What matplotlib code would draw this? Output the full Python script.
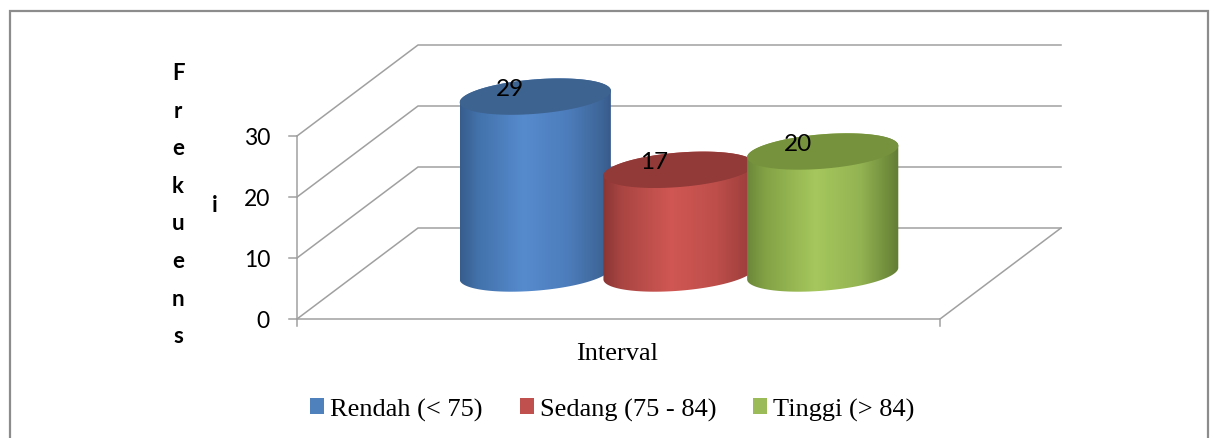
import numpy as np
import matplotlib
matplotlib.use("Agg")
import matplotlib.pyplot as plt
from matplotlib.colors import LinearSegmentedColormap
from matplotlib.patches import Polygon, Rectangle, Patch

# data
series = ["Rendah (< 75)", "Sedang (75 - 84)", "Tinggi (> 84)"]
values = [29, 17, 20]
y_ticks = [0, 10, 20, 30]
y_title = "Frekuensi"
x_title = "Interval"

# series colours: legend swatch, top face, body gradient stops
swatch = ["#4f81bd", "#c0504d", "#9bbb59"]
top_face = ["#3d6390", "#913a38", "#76923c"]
body_stops = [
    [(0.0, "#375d8c"), (0.12, "#4372ab"), (0.42, "#568bce"), (0.72, "#4c7cba"), (0.93, "#3e6698"), (1.0, "#37598a")],
    [(0.0, "#8a3634"), (0.12, "#a94542"), (0.45, "#d05753"), (0.75, "#bd4e4a"), (1.0, "#983c3a")],
    [(0.0, "#6b873a"), (0.12, "#83a245"), (0.45, "#a5c75d"), (0.75, "#93b352"), (1.0, "#627d33")],
]

# layout in pixels
FIG_W, FIG_H = 1212, 439
X0_PX, FRONT_W = 297, 643        # front floor edge
Y0_PX, PX_PER_UNIT = 320, 6.1    # value 0 on the front plane, pixels per unit
DEPTH_PX = (121, 91)             # offset from front plane to back wall
GRID = "#a0a0a0"
LABEL_FONT = "Lato"
SERIF = "Liberation Serif"


def px_x(n):
    return n / FRONT_W


def px_y(n):
    return n / PX_PER_UNIT


DX, DY = px_x(DEPTH_PX[0]), px_y(DEPTH_PX[1])

fig = plt.figure(figsize=(FIG_W / 100, FIG_H / 100), dpi=100)
ax = fig.add_axes([0, 0, 1, 1])
ax.set_autoscale_on(False)
ax.axis("off")

# walls, floor and axis lines
for v in y_ticks:
    ax.plot([0, DX, 1 + DX], [v, v + DY, v + DY], color=GRID, lw=1.1, zorder=1)
    ax.plot([-px_x(8), 0], [v, v], color=GRID, lw=1.1, zorder=1)
    ax.text(-px_x(27), v - px_y(1.5), str(v), ha="right", va="center", fontsize=16.5,
            family=LABEL_FONT)
ax.plot([0, 0], [0, y_ticks[-1]], color=GRID, lw=1.1, zorder=1)
ax.plot([0, 1, 1 + DX], [0, 0, DY], color=GRID, lw=1.1, zorder=1)
for x in (0, 1):
    ax.plot([x, x], [0, -px_y(7)], color=GRID, lw=1.1, zorder=1)

# cylinders, one per series, standing mid-depth
step = 0.2235
rad_x = px_x(71.6)
rad_z = 0.2
centers = 0.5 + (np.arange(len(values)) - (len(values) - 1) / 2) * step
theta_r = np.arctan2(rad_z * DX, rad_x)
half_w = np.hypot(rad_x, rad_z * DX)


def ring(cx, h, theta):
    z = 0.5 + rad_z * np.sin(theta)
    return np.column_stack([cx + rad_x * np.cos(theta) + z * DX, h + z * DY])


for i, val in enumerate(values):
    zo = 3 + i
    cx = centers[i]
    bottom = ring(cx, 0, np.linspace(theta_r, theta_r - np.pi, 120))
    top_back = ring(cx, val, np.linspace(theta_r + np.pi, theta_r, 120))
    body = Polygon(np.vstack([bottom, top_back]), closed=True,
                   facecolor="none", edgecolor="none", zorder=zo)
    ax.add_patch(body)

    mid_x = cx + 0.5 * DX
    cmap = LinearSegmentedColormap.from_list(f"body{i}", body_stops[i])
    grad = np.linspace(0, 1, 256)[np.newaxis, :]
    im = ax.imshow(grad, cmap=cmap, aspect="auto", origin="lower", interpolation="bilinear",
                   extent=[mid_x - half_w, mid_x + half_w, -5, val + DY], zorder=zo)
    im.set_clip_path(body)

    top = ring(cx, val, np.linspace(0, 2 * np.pi, 240))
    ax.add_patch(Polygon(top, closed=True, facecolor=top_face[i], edgecolor="none",
                         zorder=zo + 0.5))

    ax.annotate(str(val), xy=(mid_x, val + 0.5 * DY), xytext=(-18, 5.8),
                textcoords="offset points", ha="center", va="center",
                fontsize=17.5, family=LABEL_FONT, zorder=10)

ax.set_xlim(-px_x(X0_PX), px_x(FIG_W - X0_PX))
ax.set_ylim(px_y(Y0_PX - FIG_H), px_y(Y0_PX))

# wrapped axis title: "Frekuens" stacked, "i" in a second column
for k, ch in enumerate(y_title[:-1]):
    fig.text(178 / FIG_W, 1 - (80 + 37.6 * k) / FIG_H, ch, ha="center", va="baseline",
             fontsize=16, fontweight="bold", family=LABEL_FONT)
fig.text(215 / FIG_W, 1 - 212 / FIG_H, y_title[-1], ha="center", va="baseline",
         fontsize=16, fontweight="bold", family=LABEL_FONT)

fig.text(617 / FIG_W, 1 - 360 / FIG_H, x_title, ha="center", va="baseline",
         fontsize=19, family=SERIF)

handles = [Patch(facecolor=c, edgecolor="none", label=s) for s, c in zip(series, swatch)]
fig.legend(handles=handles, loc="center", bbox_to_anchor=(612.5 / FIG_W, 1 - 410 / FIG_H),
           ncol=3, frameon=False, prop={"family": SERIF, "size": 19},
           handlelength=0.53, handleheight=0.53, handletextpad=0.23,
           columnspacing=1.4, borderpad=0, borderaxespad=0)

# chart area border
fig.add_artist(Rectangle((9.5 / FIG_W, -0.05), 1198 / FIG_W, 1.05 - 11.5 / FIG_H,
                         transform=fig.transFigure, fill=False,
                         edgecolor="#8c8c8c", lw=1.6))

fig.savefig("out.png", dpi=100)
